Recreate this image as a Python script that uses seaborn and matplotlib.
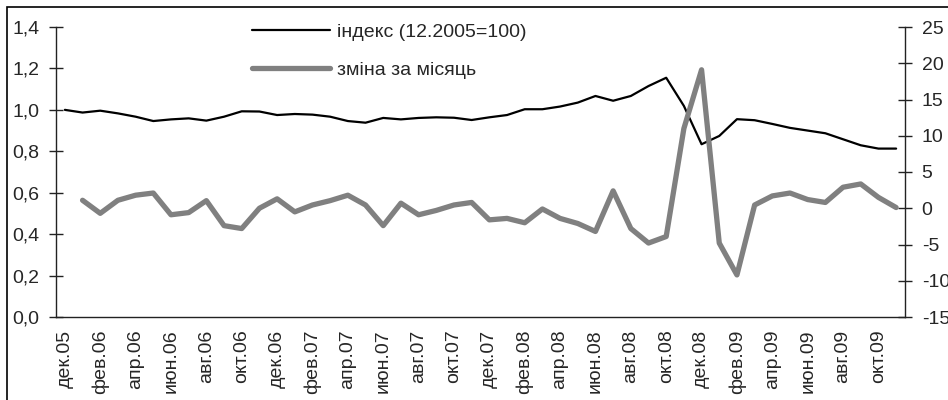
import numpy as np
import pandas as pd
import matplotlib
matplotlib.use('Agg')
import matplotlib.pyplot as plt
import seaborn as sns
from matplotlib.patches import Rectangle

# --- data ---
months = ['дек', 'янв', 'фев', 'мар', 'апр', 'май', 'июн', 'июл', 'авг', 'сен', 'окт', 'ноя']
# December 2005 .. November 2009 (48 months)
labels = ['дек.05'] + [f'{months[k % 12]}.{(6 + (k - 1) // 12):02d}' for k in range(1, 48)]

index_vals = [1.00, 0.987, 0.996, 0.983, 0.967, 0.946, 0.954, 0.959, 0.948, 0.967,
              0.993, 0.992, 0.975, 0.980, 0.977, 0.967, 0.946, 0.938, 0.961, 0.954,
              0.961, 0.964, 0.962, 0.951, 0.964, 0.975, 1.003, 1.003, 1.016, 1.035,
              1.067, 1.044, 1.067, 1.115, 1.155, 1.019, 0.834, 0.874, 0.955, 0.950,
              0.932, 0.913, 0.900, 0.887, 0.858, 0.829, 0.813, 0.813]

change_vals = [np.nan, 1.1, -0.7, 1.1, 1.8, 2.1, -0.9, -0.6, 1.05, -2.4,
               -2.8, 0.0, 1.3, -0.5, 0.45, 1.05, 1.8, 0.45, -2.4, 0.7,
               -0.9, -0.3, 0.45, 0.8, -1.6, -1.4, -2.0, -0.1, -1.4, -2.1,
               -3.2, 2.4, -2.8, -4.8, -3.9, 11.0, 19.1, -4.8, -9.2, 0.45,
               1.7, 2.1, 1.2, 0.8, 2.9, 3.35, 1.5, 0.1]

df = pd.DataFrame({'pos': np.arange(len(labels)), 'label': labels,
                   'index': index_vals, 'change': change_vals})

sns.set_style('white')
plt.rcParams['font.family'] = ['Liberation Sans', 'DejaVu Sans']
plt.rcParams['font.size'] = 14
plt.rcParams['axes.unicode_minus'] = False

fig = plt.figure(figsize=(9.48, 4.0), dpi=100)
ax = fig.add_axes([0.0591, 0.2075, 0.8955, 0.725])
ax2 = ax.twinx()

sns.lineplot(data=df, x='pos', y='index', ax=ax, color='black', linewidth=1.6,
             label='індекс (12.2005=100)', legend=False)
sns.lineplot(data=df.dropna(), x='pos', y='change', ax=ax2, color='#808080', linewidth=3.8,
             label='зміна за місяць', legend=False)

n = len(labels)
for a in (ax, ax2):
    a.set_xlim(-0.5, n - 0.5)
    a.set_xlabel('')
    a.set_ylabel('')
    for s in a.spines.values():
        s.set_visible(False)

ax.set_ylim(0, 1.4)
ax.set_yticks(np.arange(0, 1.41, 0.2))
ax.set_yticklabels([f'{v:.1f}'.replace('.', ',') for v in np.arange(0, 1.41, 0.2)])
ax2.set_ylim(-15, 25)
ax2.set_yticks(range(-15, 26, 5))

ax.spines['left'].set_visible(True)
ax.spines['bottom'].set_visible(True)
ax2.spines['right'].set_visible(True)
for s in (ax.spines['left'], ax.spines['bottom'], ax2.spines['right']):
    s.set_color('#222222')
    s.set_linewidth(1.0)

# category boundaries as major ticks, labels every 2nd month on minor ticks
ax.set_xticks(np.arange(-0.5, n, 1.0))
ax.set_xticklabels([])
ax.set_xticks(np.arange(0, n, 2), minor=True)
ax.set_xticklabels(labels[::2], minor=True, rotation=90)
ax.tick_params(axis='x', which='major', direction='inout', length=10, width=1, color='#222222')
ax.tick_params(axis='x', which='minor', length=0, pad=9, labelsize=14)
ax.tick_params(axis='y', direction='inout', length=10, width=1, color='#222222',
               pad=7, labelsize=14, left=True)
ax2.tick_params(axis='y', direction='inout', length=10, width=1, color='#222222',
                pad=7, labelsize=14, right=True)
ax2.set_xticks([])

h1, l1 = ax.get_legend_handles_labels()
h2, l2 = ax2.get_legend_handles_labels()
ax2.legend(h1 + h2, l1 + l2, loc='upper left', bbox_to_anchor=(252 / 948, 1 - 23 / 400),
           bbox_transform=fig.transFigure, frameon=False, handlelength=4.0,
           handletextpad=0.35, labelspacing=1.05, borderpad=0, borderaxespad=0, fontsize=14)

fig.patches.append(Rectangle((7 / 948, -0.05), 1.1, 1 - 7 / 400 + 0.05,
                             transform=fig.transFigure, fill=False,
                             edgecolor='black', linewidth=1.2))

fig.savefig('out.png', dpi=100)
